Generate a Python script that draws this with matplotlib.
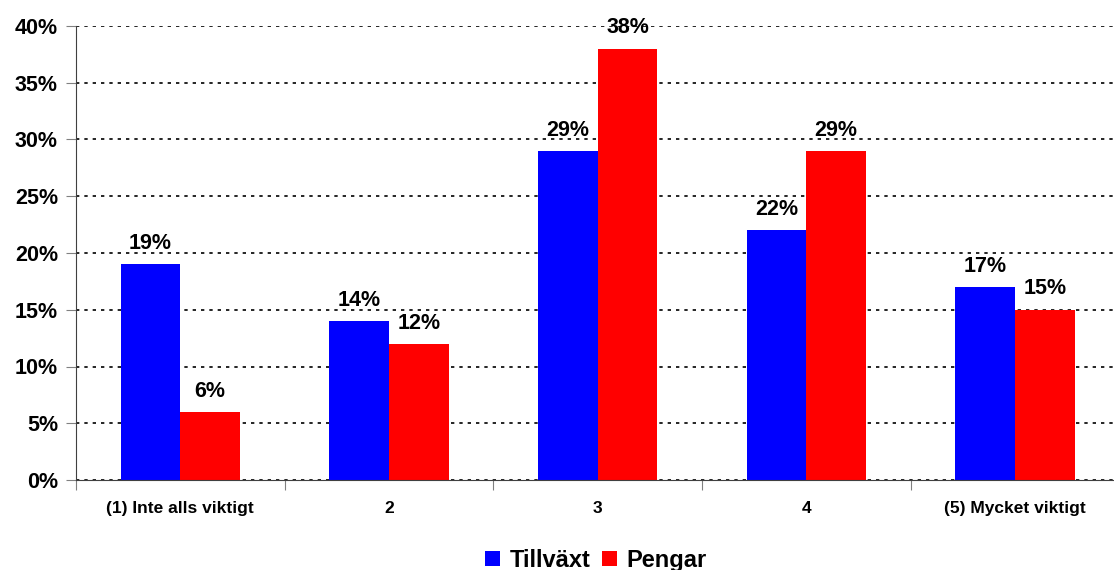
import numpy as np
import matplotlib.pyplot as plt
from matplotlib.ticker import FixedLocator, PercentFormatter

plt.rcParams['font.family'] = ['Liberation Sans', 'DejaVu Sans']
plt.rcParams['font.weight'] = 'bold'

# Data
categories = ['(1) Inte alls viktigt', '2', '3', '4', '(5) Mycket viktigt']
tillvaxt = [19, 14, 29, 22, 17]
pengar = [6, 12, 38, 29, 15]

x = np.arange(len(categories))
w = 1 / 3.5

fig = plt.figure(figsize=(11.14, 5.70), dpi=100)
ax = fig.add_axes([76 / 1114, 1 - 480 / 570, 1 - 76 / 1114, (480 - 26) / 570])

b1 = ax.bar(x - w / 2, tillvaxt, w, color='#0000FF', label='Tillväxt', zorder=3)
b2 = ax.bar(x + w / 2, pengar, w, color='#FF0000', label='Pengar', zorder=3)

# värdeetiketter ovanför staplarna
for bars, vals in [(b1, tillvaxt), (b2, pengar)]:
    for rect, v in zip(bars, vals):
        ax.annotate(f'{v}%', (rect.get_x() + rect.get_width() / 2, v),
                    xytext=(0, 11), textcoords='offset points',
                    ha='center', va='baseline', fontsize=15.5, fontweight='bold',
                    zorder=4)

ax.set_ylim(0, 40)
ax.set_xlim(-0.5, 4.474)
ax.set_yticks(range(0, 41, 5))
ax.yaxis.set_major_formatter(PercentFormatter(decimals=0))
ax.yaxis.grid(True, linestyle=(0, (2, 3)), color='black', linewidth=1.2, zorder=0)

# kategorigränser som tick, etiketter i mitten
ax.xaxis.set_major_locator(FixedLocator(np.arange(-0.5, 5, 1)))
ax.xaxis.set_major_formatter(plt.NullFormatter())
ax.xaxis.set_minor_locator(FixedLocator(x))
ax.set_xticklabels(categories, minor=True)
ax.tick_params(axis='x', which='minor', length=0, pad=15, labelsize=12.5)
ax.tick_params(axis='x', which='major', length=7, color='#808080', direction='out')
ax.tick_params(axis='y', length=7, color='#808080', labelsize=15.5, pad=6)

for s in ['top', 'right']:
    ax.spines[s].set_visible(False)
ax.spines['left'].set_color('#404040')
ax.spines['bottom'].set_color('#404040')
ax.spines['bottom'].set_zorder(5)

fig.legend(loc='lower center', bbox_to_anchor=(0.535, -0.04), ncol=2, frameon=False,
           prop={'size': 17, 'weight': 'bold'}, handlelength=0.62, handleheight=0.62,
           handletextpad=0.4, columnspacing=0.5)

fig.savefig('out.png', dpi=100)
